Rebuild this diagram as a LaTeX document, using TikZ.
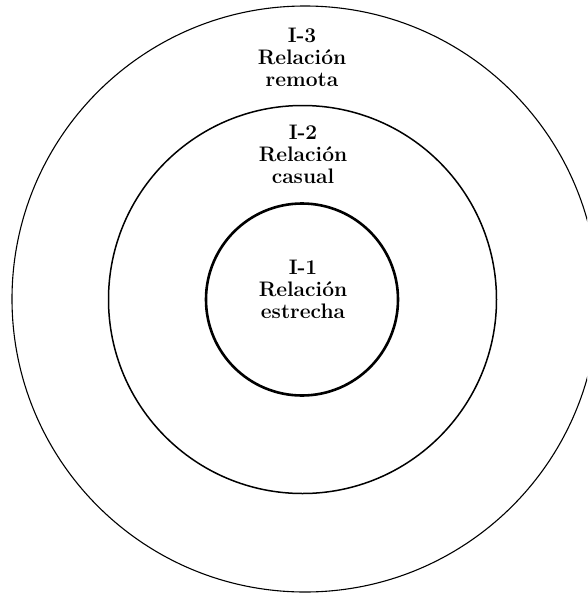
\documentclass[tikz,border=0pt]{standalone}
\tikzset{
  ring/.style={draw=black, circle, inner sep=0pt, fill=none},
  lbl/.style={align=center, inner sep=0pt, font=\fontsize{21}{22}\selectfont\bfseries}
}
\begin{document}
\begin{tikzpicture}[x=1pt,y=-1pt]
\useasboundingbox (0,0) rectangle (587,595);
\fill[white] (0,0) rectangle (587,595);
\begin{scope}
\clip (0,0) rectangle (587,595);
\node[ring, line width=1.1pt, minimum size=586pt] (r3) at (305,299) {};
\end{scope}
\node[ring, line width=1.5pt, minimum size=388pt] (r2) at (302.5,299.5) {};
\node[ring, line width=2.6pt, minimum size=192pt] (r1) at (302,299.5) {};
\node[lbl] (t3) at (302,57) {I-3\\Relación\\remota};
\node[lbl] (t2) at (303,154) {I-2\\Relación\\casual};
\node[lbl] (t1) at (303,289) {I-1\\Relación\\estrecha};
\end{tikzpicture}
\end{document}
